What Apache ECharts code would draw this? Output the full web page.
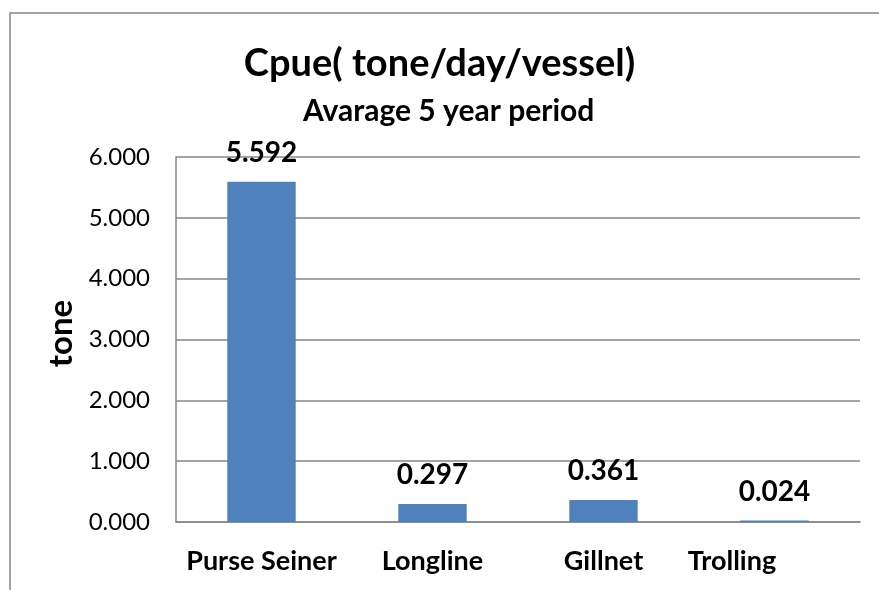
<!DOCTYPE html>
<html>
<head>
<meta charset="utf-8">
<script src="https://cdn.jsdelivr.net/npm/echarts@6/dist/echarts.min.js"></script>
<style>
  html, body { margin: 0; padding: 0; background: #fff; }
  #chart { width: 879px; height: 590px; }
</style>
</head>
<body>
<div id="chart"></div>
<script>
const categories = ['Purse Seiner', 'Longline', 'Gillnet', 'Trolling'];
const cpueValues = [5.592, 0.297, 0.361, 0.024];
const yTicks = [0, 1, 2, 3, 4, 5, 6];

const font = 'Lato, "Liberation Sans", sans-serif';
const gray = '#868686';

const chart = echarts.init(document.getElementById('chart'));

chart.setOption({
    backgroundColor: '#fff',
    animation: false,
    graphic: [{
        type: 'rect',
        shape: { x: 10, y: 13, width: 900, height: 620 },
        style: { fill: 'none', stroke: gray, lineWidth: 1.5 },
        z: -1
    }],
    title: [
        {
            text: 'Cpue( tone/day/vessel)',
            left: 'center',
            top: 40,
            textStyle: { fontFamily: font, fontSize: 38, fontWeight: 'bold', color: '#000' }
        },
        {
            text: 'Avarage 5 year period',
            left: 298,
            top: 91,
            textStyle: { fontFamily: font, fontSize: 30, fontWeight: 'bold', color: '#000' }
        }
    ],
    grid: { left: 176, top: 157, right: 19, bottom: 68 },
    xAxis: {
        type: 'category',
        data: categories,
        axisLine: { lineStyle: { color: gray, width: 1.5 } },
        axisTick: { show: false },
        axisLabel: {
            interval: 0,
            hideOverlap: false,
            margin: 26,
            fontFamily: font,
            fontSize: 27,
            fontWeight: 'bold',
            color: '#000',
            formatter: function (v) {
                return v === 'Trolling' ? '{t|' + v + '}' : v;
            },
            rich: {
                t: { fontFamily: font, fontSize: 27, fontWeight: 'bold', color: '#000', padding: [0, 85, 0, 0] }
            }
        }
    },
    yAxis: {
        type: 'value',
        min: yTicks[0],
        max: yTicks[yTicks.length - 1],
        interval: 1,
        name: 'tone',
        nameLocation: 'middle',
        nameRotate: 90,
        nameGap: 97,
        nameTextStyle: { fontFamily: font, fontSize: 33, fontWeight: 'bold', color: '#000', padding: [0, 0, 0, 12] },
        axisLine: { show: true, lineStyle: { color: gray, width: 1.5 } },
        axisTick: { show: false },
        splitLine: { lineStyle: { color: gray, width: 1.5 } },
        axisLabel: {
            margin: 26,
            fontFamily: font,
            fontSize: 24,
            color: '#000',
            formatter: function (v) { return v.toFixed(3); }
        }
    },
    series: [{
        type: 'bar',
        data: cpueValues,
        barWidth: '40%',
        itemStyle: { color: '#4F81BD' },
        label: {
            show: true,
            position: 'top',
            distance: 15,
            fontFamily: font,
            fontSize: 28,
            fontWeight: 'bold',
            color: '#000',
            formatter: function (p) { return p.value.toFixed(3); }
        }
    }]
});
</script>
</body>
</html>
